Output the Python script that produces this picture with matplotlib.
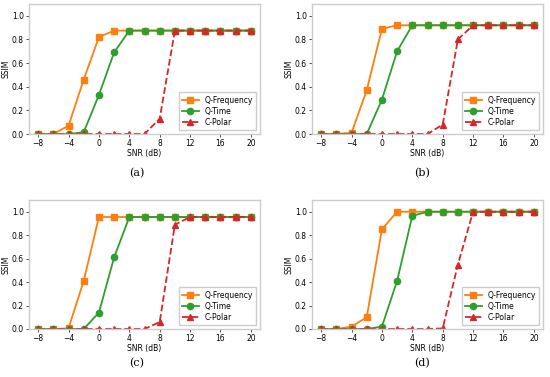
import matplotlib
matplotlib.use("Agg")
import matplotlib.pyplot as plt

snr = [-8, -6, -4, -2, 0, 2, 4, 6, 8, 10, 12, 14, 16, 18, 20]
xticks = [-8, -4, 0, 4, 8, 12, 16, 20]
yticks = [0.0, 0.2, 0.4, 0.6, 0.8, 1.0]
captions = ["(a)", "(b)", "(c)", "(d)"]

# Q-Frequency per panel
qf_a = [0, 0, 0.07, 0.46, 0.82, 0.875, 0.875, 0.875, 0.875, 0.875, 0.875, 0.875, 0.875, 0.875, 0.875]
qf_b = [0, 0, 0.01, 0.37, 0.89, 0.92, 0.92, 0.92, 0.92, 0.92, 0.92, 0.92, 0.92, 0.92, 0.92]
qf_c = [0, 0, 0.005, 0.41, 0.955, 0.955, 0.955, 0.955, 0.955, 0.955, 0.955, 0.955, 0.955, 0.955, 0.955]
qf_d = [0, 0, 0.02, 0.10, 0.85, 1.0, 1.0, 1.0, 1.0, 1.0, 1.0, 1.0, 1.0, 1.0, 1.0]

# Q-Time per panel
qt_a = [0, 0, 0, 0.015, 0.33, 0.69, 0.875, 0.875, 0.875, 0.875, 0.875, 0.875, 0.875, 0.875, 0.875]
qt_b = [0, 0, 0, 0, 0.29, 0.70, 0.92, 0.92, 0.92, 0.92, 0.92, 0.92, 0.92, 0.92, 0.92]
qt_c = [0, 0, 0, 0, 0.14, 0.61, 0.955, 0.955, 0.955, 0.955, 0.955, 0.955, 0.955, 0.955, 0.955]
qt_d = [0, 0, 0, 0, 0.02, 0.41, 0.965, 1.0, 1.0, 1.0, 1.0, 1.0, 1.0, 1.0, 1.0]

# C-Polar per panel
cp_a = [0, 0, 0, 0, 0, 0, 0, 0, 0.13, 0.875, 0.875, 0.875, 0.875, 0.875, 0.875]
cp_b = [0, 0, 0, 0, 0, 0, 0, 0, 0.08, 0.80, 0.92, 0.92, 0.92, 0.92, 0.92]
cp_c = [0, 0, 0, 0, 0, 0, 0, 0, 0.06, 0.89, 0.955, 0.955, 0.955, 0.955, 0.955]
cp_d = [0, 0, 0, 0, 0, 0, 0, 0, 0.005, 0.55, 1.0, 1.0, 1.0, 1.0, 1.0]

panels = [(qf_a, qt_a, cp_a), (qf_b, qt_b, cp_b), (qf_c, qt_c, cp_c), (qf_d, qt_d, cp_d)]

fig = plt.figure(figsize=(5.5, 3.77), dpi=100)
W, H = 550, 377
# axes boxes in pixels: left, top, right, bottom
boxes = [(29, 4, 260, 134), (312, 4, 543, 134), (29, 200, 260, 329), (312, 200, 543, 329)]
cap_pos = [(137, 173), (422, 173), (137, 363), (422, 363)]

for (qf, qt, cp), (l, t, r, b), cap, (cx, cy) in zip(panels, boxes, captions, cap_pos):
    ax = fig.add_axes([l / W, 1 - b / H, (r - l) / W, (b - t) / H])
    ax.plot(snr, qf, "-s", color="#ff7f0e", ms=4.5, lw=1.3, label="Q-Frequency")
    ax.plot(snr, qt, "-o", color="#2ca02c", ms=4.5, lw=1.3, label="Q-Time")
    ax.plot(snr, cp, "--^", color="#d62728", ms=4.5, lw=1.3, label="C-Polar")
    ax.set_ylim(0, 1.1)
    ax.set_xlim(-9.2, 21.2)
    ax.set_xticks(xticks)
    ax.set_yticks(yticks)
    ax.tick_params(labelsize=5.5, length=2.5, width=0.6, pad=1.2, color="#333333")
    for s in ax.spines.values():
        s.set_color("#cccccc")
        s.set_linewidth(1.0)
    ax.set_xlabel("SNR (dB)", fontsize=5.5, labelpad=0.5)
    ax.set_ylabel("SSIM", fontsize=5.5, labelpad=1)
    ax.legend(loc="lower right", fontsize=5.5, handlelength=2.2, borderpad=0.4,
              labelspacing=0.3, framealpha=1, edgecolor="#cccccc", fancybox=False)
    fig.text(cx / W, 1 - cy / H, cap, fontsize=8, family="serif", ha="center", va="center")

fig.savefig("out.png", dpi=100)
